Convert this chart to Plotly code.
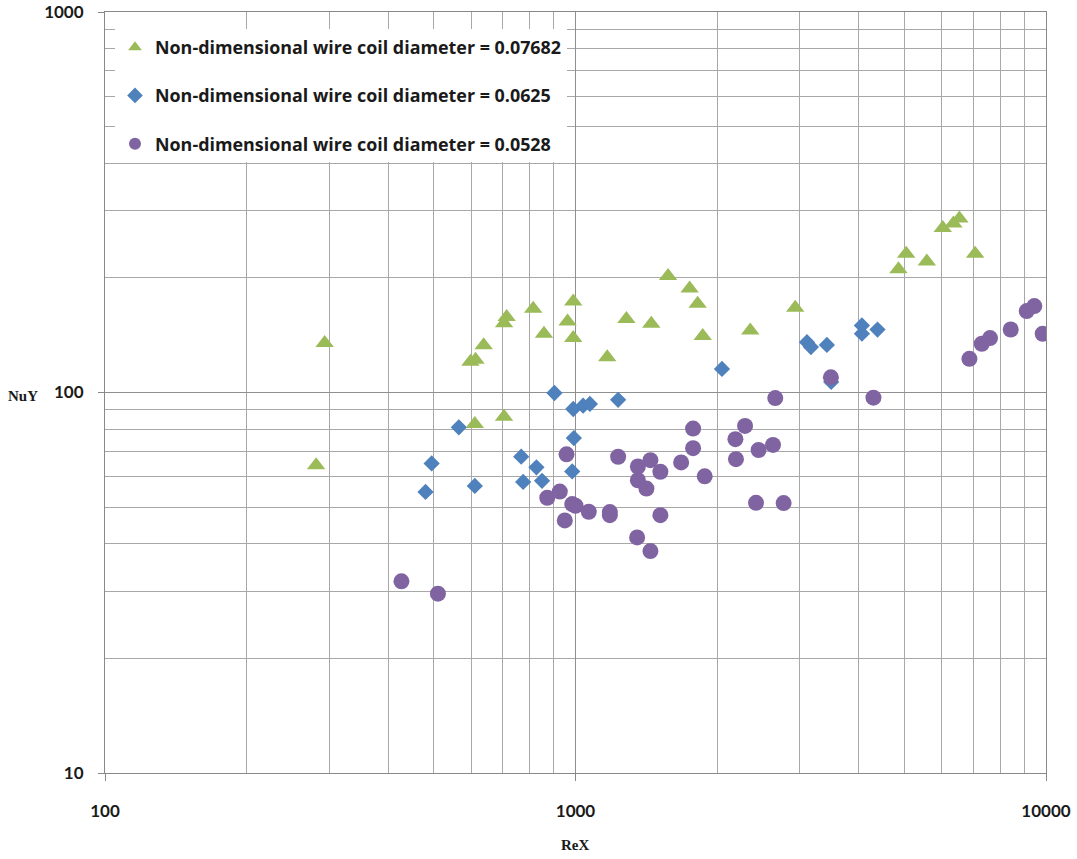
import plotly.graph_objects as go

# ---- data ----
re_g = [281, 293, 598, 613, 611, 638, 705, 714, 705, 813, 857, 989, 962, 989,
        1168, 1283, 1449, 1573, 1748, 1818, 1864, 2352, 2931, 4858, 5045, 5581,
        6034, 6357, 6546, 7069]
nu_g = [64.4, 135, 120.5, 122, 82.7, 133, 152, 158, 86.3, 166, 142.6, 173.5, 153.7, 139,
        123.8, 156, 151.5, 202.4, 187.6, 171, 140.7, 145.6, 167, 210.8, 231.7, 221,
        270.8, 277.9, 286.7, 231.7]

re_b = [480, 494.6, 565, 611, 766.6, 774, 826, 849, 902, 984, 992, 989, 1038, 1073,
        1232, 2048, 3104, 3165, 3422, 3495, 4062, 4062, 4384]
nu_b = [54.8, 65.1, 81, 56.8, 67.8, 58.2, 63.6, 58.6, 99.7, 62, 75.9, 90.5, 92.3, 93.3,
        95.7, 115.3, 135.6, 131.6, 133.4, 106.6, 150, 142.7, 146.4]

re_p = [426.6, 510, 871, 926, 949, 957, 984, 1000, 1067, 1183, 1183, 1232, 1352, 1357,
        1357, 1415, 1443, 1443, 1515, 1515, 1677, 1778, 1778, 1882, 2187, 2193, 2293,
        2419, 2450, 2629, 2658, 2769, 3490, 4298, 6874, 7303, 7604, 8414, 9099, 9445, 9840]
nu_p = [31.9, 29.6, 52.9, 54.9, 46.1, 68.8, 50.9, 50.4, 48.6, 48.5, 47.6, 67.8, 41.6, 63.9,
        58.8, 55.9, 66.4, 38.3, 61.9, 47.6, 65.5, 80.4, 71.4, 60.2, 75.4, 66.8, 81.7,
        51.3, 70.6, 72.8, 96.7, 51.2, 109.6, 96.9, 122.6, 134.3, 139, 146.4, 163.7, 168.7, 142.7]

names = ["Non-dimensional wire coil diameter = 0.07682",
         "Non-dimensional wire coil diameter = 0.0625",
         "Non-dimensional wire coil diameter = 0.0528"]

x_major = [100, 1000, 10000]
x_ticktext = ["100", "1000", "10000"]
y_major = [10, 100, 1000]
y_ticktext = ["10", "100", "1000"]
x_minor = [m * d for d in (100, 1000) for m in range(2, 10)]
y_minor = [m * d for d in (10, 100) for m in range(2, 10)]

W, H = 1077, 859
L, R, T, B = 105, 31, 12, 86
pw, ph = W - L - R, H - T - B

fig = go.Figure()
fig.add_trace(go.Scatter(x=re_g, y=nu_g, mode="markers", name=names[0], legendgroup="g",
                         marker=dict(symbol="triangle-up", size=16, color="#9BBB59")))
fig.add_trace(go.Scatter(x=re_b, y=nu_b, mode="markers", name=names[1], legendgroup="b",
                         marker=dict(symbol="diamond", size=12.5, color="#4F81BD")))
fig.add_trace(go.Scatter(x=re_p, y=nu_p, mode="markers", name=names[2], legendgroup="p",
                         marker=dict(symbol="circle", size=16, color="#8064A2")))

grid_minor = "#a8a8a8"
grid_major = "#8f8f8f"
tickfont = dict(family="Lato", size=17, color="#1a1a1a", weight="bold")

fig.update_layout(
    width=W, height=H,
    margin=dict(l=L, r=R, t=T, b=B, autoexpand=False),
    paper_bgcolor="white", plot_bgcolor="white",
    showlegend=True,
    legend=dict(x=(115 - L) / pw, y=1 - (29 - T) / ph, xanchor="left", yanchor="top",
                bgcolor="white", borderwidth=0, tracegroupgap=22,
                font=dict(family="Open Sans", size=17.9, color="#1a1a1a", weight="bold"),
                itemsizing="constant"),
    xaxis=dict(type="log", range=[2, 4], tickmode="array", tickvals=x_major, ticktext=x_ticktext,
               ticks="outside", ticklen=7, tickcolor="#888888", automargin=False,
               tickfont=tickfont, ticklabelstandoff=16,
               showgrid=True, gridcolor=grid_major, gridwidth=1,
               minor=dict(tickvals=x_minor, showgrid=True, gridcolor=grid_minor, gridwidth=1, ticks=""),
               showline=True, linecolor="#888888", linewidth=1, mirror=True, zeroline=False),
    yaxis=dict(type="log", range=[1, 3], tickmode="array", tickvals=y_major, ticktext=y_ticktext,
               ticks="outside", ticklen=6, tickcolor="#888888", automargin=False,
               tickfont=tickfont, ticklabelstandoff=11,
               showgrid=True, gridcolor=grid_major, gridwidth=1,
               minor=dict(tickvals=y_minor, showgrid=True, gridcolor=grid_minor, gridwidth=1, ticks=""),
               showline=True, linecolor="#888888", linewidth=1, mirror=True, zeroline=False),
    annotations=[
        dict(text="NuY", xref="paper", yref="paper", x=(23 - L) / pw, y=1 - (396 - T) / ph,
             xanchor="center", yanchor="middle", showarrow=False,
             font=dict(family="Liberation Serif", size=15, color="#1a1a1a", weight="bold")),
        dict(text="ReX", xref="paper", yref="paper", x=(575 - L) / pw, y=1 - (845 - T) / ph,
             xanchor="center", yanchor="middle", showarrow=False,
             font=dict(family="Liberation Serif", size=15, color="#1a1a1a", weight="bold")),
    ],
)

fig.write_html("out.html")
